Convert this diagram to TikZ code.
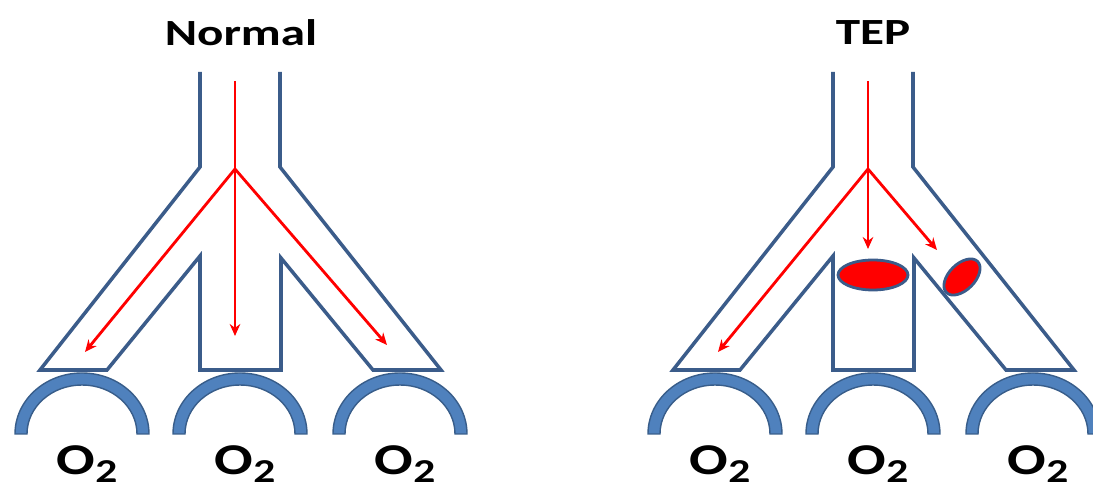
\documentclass[tikz,border=0pt]{standalone}
\usepackage{fontspec}
\setmainfont{Carlito}
\usepackage{tikz}
\usetikzlibrary{arrows.meta}
\definecolor{wallblue}{RGB}{59,92,138}
\definecolor{alvblue}{RGB}{79,129,189}
\definecolor{alvedge}{RGB}{56,93,138}
\newcommand{\oxy}{O\raisebox{-2pt}{\fontsize{9.5}{11}\selectfont 2}}

\begin{document}
\begin{tikzpicture}[x=0.01cm, y=0.01cm,
    wall/.style={draw=wallblue, line width=1pt, line join=miter},
    flow/.style={draw=red, line width=0.8pt, -{Stealth[length=3.4pt,width=3pt]}},
    clot/.style={draw=wallblue, fill=red, line width=0.8pt},
    alv/.style={fill=alvblue, draw=alvedge, line width=0.4pt},
    ttl/.style={font=\fontsize{10.5}{12}\selectfont\bfseries, xscale=1.33},
    lbl/.style={font=\fontsize{12.5}{14}\selectfont\bfseries, xscale=1.3, anchor=base}
  ]
  \clip (0,0) rectangle (1093,488);
  % Titles
  \node[ttl] (normal) at (241,455) {Normal};
  \node[ttl] (tep) at (873,455) {TEP};
  % Airway walls, one tree per panel
  \foreach \dx in {0,633} {
    \begin{scope}[shift={(\dx,0)}]
      \draw[wall] (200,416) -- (200,321) -- (40,118) -- (107,118) -- (200,232)
        -- (200,118) -- (281,118) -- (281,230) -- (373,118) -- (441,118)
        -- (280,321) -- (280,416);
    \end{scope}
  }
  % Alveoli and O2 labels
  \foreach \cx [count=\i] in {82,240,400,715,873,1033} {
    \path[alv] (\cx-67,54) arc[start angle=180, end angle=0, x radius=67, y radius=61]
      -- (\cx+55,54) arc[start angle=0, end angle=180, x radius=55, y radius=49] -- cycle;
    \node[lbl] (o2-\i) at (\cx+5,13) {\oxy};
  }
  % Blood flow, normal
  \coordinate (nTop) at (235,407);
  \coordinate (nFork) at (235,319);
  \coordinate (nL) at (85,136);
  \coordinate (nC) at (235,152);
  \coordinate (nR) at (387,143);
  \draw[flow] (nTop) -- (nC);
  \draw[flow] (nFork) -- (nL);
  \draw[flow] (nFork) -- (nR);
  % Blood flow, embolism
  \coordinate (tTop) at (868,407);
  \coordinate (tFork) at (868,319);
  \coordinate (tL) at (718,136);
  \coordinate (tC) at (868,239);
  \coordinate (tR) at (937,238);
  \draw[flow] (tTop) -- (tC);
  \draw[flow] (tFork) -- (tL);
  \draw[flow] (tFork) -- (tR);
  % Clots
  \draw[clot] (873,213) ellipse [x radius=35, y radius=15];
  \draw[clot, rotate around={45:(962,211)}] (962,211) ellipse [x radius=22, y radius=13];
\end{tikzpicture}
\end{document}
